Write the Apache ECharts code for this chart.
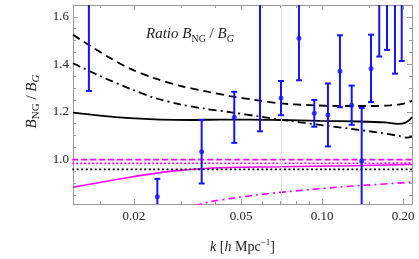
<!DOCTYPE html>
<html><head><meta charset="utf-8">
<script src="https://cdn.jsdelivr.net/npm/echarts@6/dist/echarts.min.js"></script>
<style>html,body{margin:0;padding:0;background:#fff}#c{width:419px;height:259px}</style>
</head><body><div id="c"></div>
<script>
// ---- data ----
const pointK     = [0.0136, 0.02443, 0.0357, 0.04719, 0.05881, 0.0704, 0.0821, 0.0936, 0.1052, 0.1166, 0.1289, 0.1404, 0.1521, 0.1632, 0.1744, 0.1867, 0.1978];
const pointRatio = [1.75,   0.8425,  1.032,  1.177,   1.80,    1.258,  1.510,  1.194,  1.187,  1.371,  1.228,  0.9935, 1.383,  1.75,   1.80,   1.75,   1.75];
const pointErr   = [0.462,  0.0755,  0.1335, 0.1075,  0.682,   0.072,  0.177,  0.0565, 0.1325, 0.1515, 0.0825, 0.2235, 0.142,  0.317,  0.339,  0.389,  0.336];

const solidK   = [0.01187, 0.01495, 0.01932, 0.02498, 0.0323, 0.04175, 0.05398, 0.06977, 0.09827, 0.1384, 0.1714, 0.1916, 0.2034, 0.2123, 0.216];
const solidV   = [1.1966,  1.1842,  1.1739,  1.1677,  1.1657, 1.1677,  1.1677,  1.1657,  1.1624,  1.1595, 1.1554, 1.1492, 1.1533, 1.1677, 1.1780];

const dashedK  = [0.01187, 0.01372, 0.01628, 0.01932, 0.02394, 0.02965, 0.03671, 0.04548, 0.05634, 0.06977, 0.09022, 0.1166, 0.1508, 0.179,  0.195,  0.2069, 0.216];
const dashedV  = [1.5246,  1.4788,  1.4273,  1.3820,  1.3408,  1.3099,  1.2872,  1.2666,  1.2501,  1.2357,  1.2283,  1.2246, 1.2246, 1.2275, 1.2316, 1.2378, 1.2460];

const dashDotK = [0.01187, 0.01495, 0.01932, 0.02394, 0.02965, 0.03671, 0.04548, 0.05881, 0.07603, 0.09827, 0.1271, 0.1642, 0.195,  0.2069, 0.216];
const dashDotV = [1.4047,  1.3511,  1.2975,  1.2584,  1.2316,  1.2131,  1.1986,  1.1801,  1.1616,  1.1451,  1.1286, 1.1121, 1.0977, 1.0915, 1.0956];

const dottedK  = [0.0118, 0.216];
const dottedV  = [0.958,  0.958];

const magSolidK = [0.01187, 0.01495, 0.01932, 0.02394, 0.02965, 0.03671, 0.04955, 0.06977, 0.1271, 0.216];
const magSolidV = [0.8829,  0.9028,  0.9246,  0.9411,  0.9535,  0.9617,  0.9667,  0.9691,  0.9733, 0.9782];

const magDashK  = [0.0118, 0.216];
const magDashV  = [0.999,  0.999];

const magDotK   = [0.0118, 0.216];
const magDotV   = [0.983,  0.984];

const magDashDotK = [0.03371, 0.03833, 0.04548, 0.05634, 0.06977, 0.09022, 0.1166, 0.1508, 0.216];
const magDashDotV = [0.8051,  0.8216,  0.8348,  0.8492,  0.8608,  0.8727,  0.8834, 0.8925, 0.9040];

const gridK = 0.07;

const xTickValues = [0.02, 0.05, 0.1, 0.2];
const xTickLabels = ['0.02', '0.05', '0.10', '0.20'];
const xMinorTicks = [0.015, 0.03, 0.04, 0.06, 0.07, 0.08, 0.09, 0.15];
const yTickValues = [1.0, 1.2, 1.4, 1.6];
const yTickLabels = ['1.0', '1.2', '1.4', '1.6'];
const yMinorTicks = [0.85, 0.9, 0.95, 1.05, 1.1, 1.15, 1.25, 1.3, 1.35, 1.45, 1.5, 1.55];

// ---- chart ----
const L = Math.log10;
const xMin = L(0.01187), xMax = L(0.2160);
const yMin = 0.812, yMax = 1.65;
const FRAME = '#9a9a9a';
const SERIF = 'Liberation Serif';
const BLUE = '#1414ff';
const MAG = '#ff00ff';

function pairs(ks, vs) { return ks.map((k, i) => [L(k), vs[i]]); }

function xAxisDef(pos, ticks, len, labels) {
  return {
    type: 'value', position: pos, min: xMin, max: xMax,
    axisLine: { show: labels, onZero: false, lineStyle: { color: FRAME, width: 1 } },
    axisTick: { show: true, inside: true, length: len, customValues: ticks.map(L), lineStyle: { color: FRAME } },
    axisLabel: labels ? {
      show: true, customValues: xTickValues.map(L), margin: 6,
      formatter: v => { const i = xTickValues.findIndex(t => Math.abs(L(t) - v) < 1e-6); return i >= 0 ? xTickLabels[i] : ''; },
      fontFamily: SERIF, fontSize: 13, color: '#222'
    } : { show: false },
    splitLine: { show: false }
  };
}
function yAxisDef(pos, ticks, len, labels) {
  return {
    type: 'value', position: pos, min: yMin, max: yMax,
    axisLine: { show: true, onZero: false, lineStyle: { color: FRAME, width: 1 } },
    axisTick: { show: true, inside: true, length: len, customValues: ticks, lineStyle: { color: FRAME } },
    axisLabel: labels ? {
      show: true, customValues: yTickValues, margin: 4,
      formatter: v => { const i = yTickValues.findIndex(t => Math.abs(t - v) < 1e-6); return i >= 0 ? yTickLabels[i] : ''; },
      fontFamily: SERIF, fontSize: 13, color: '#222'
    } : { show: false },
    splitLine: { show: false }
  };
}

const xAxes = [xAxisDef('bottom', xTickValues, 5, true), xAxisDef('bottom', xMinorTicks, 3, false),
               xAxisDef('top', xTickValues, 5, false), xAxisDef('top', xMinorTicks, 3, false)];
xAxes[2].axisLine.show = true;
xAxes[0].name = '{i|k} {n|[}{i|h} {n|Mpc}{sup|−1}{n|]}';
xAxes[0].nameLocation = 'middle';
xAxes[0].nameGap = 34;
xAxes[0].nameTextStyle = {
  fontFamily: SERIF, fontSize: 14, color: '#222',
  rich: {
    i: { fontFamily: SERIF, fontSize: 14, fontStyle: 'italic', color: '#222', lineHeight: 18 },
    n: { fontFamily: SERIF, fontSize: 14, color: '#222', lineHeight: 18 },
    sup: { fontFamily: SERIF, fontSize: 9, color: '#222', lineHeight: 9, verticalAlign: 'top' }
  }
};
const yAxes = [yAxisDef('left', yTickValues, 5, true), yAxisDef('left', yMinorTicks, 3, false),
               yAxisDef('right', yTickValues, 5, false), yAxisDef('right', yMinorTicks, 3, false)];
yAxes[1].axisLine.show = false; yAxes[3].axisLine.show = false;
yAxes[0].name = '{i|B}{sub|NG}{n| / }{i|B}{subi|G}';
yAxes[0].nameLocation = 'middle';
yAxes[0].nameRotate = 90;
yAxes[0].nameGap = 29;
const richSub = {
  i: { fontFamily: SERIF, fontSize: 15, fontStyle: 'italic', color: '#222', lineHeight: 19 },
  n: { fontFamily: SERIF, fontSize: 15, color: '#222', lineHeight: 19 },
  sub: { fontFamily: SERIF, fontSize: 11, color: '#222', lineHeight: 11, verticalAlign: 'bottom' },
  subi: { fontFamily: SERIF, fontSize: 11, fontStyle: 'italic', color: '#222', lineHeight: 11, verticalAlign: 'bottom' }
};
yAxes[0].nameTextStyle = { fontFamily: SERIF, fontSize: 15, color: '#222', rich: richSub, padding: [0, 0, 0, 6] };

function lineSeries(ks, vs, color, width, type) {
  return {
    type: 'line', xAxisIndex: 0, yAxisIndex: 0, data: pairs(ks, vs), smooth: 0.3,
    showSymbol: false, symbol: 'none', silent: true, clip: true,
    lineStyle: { color: color, width: width, type: type }, z: 3
  };
}

const series = [
  {
    type: 'line', data: [], xAxisIndex: 0, yAxisIndex: 0, silent: true,
    markLine: { silent: true, symbol: 'none', label: { show: false },
      lineStyle: { color: '#e2e2e2', width: 1, type: 'solid' },
      data: [{ xAxis: L(gridK) }] }, z: 1
  },
  lineSeries(magDashDotK, magDashDotV, MAG, 1.6, [7, 4, 2, 4]),
  lineSeries(magDashK, magDashV, MAG, 1.6, [6, 3]),
  lineSeries(magDotK, magDotV, MAG, 1.6, [2, 2]),
  lineSeries(magSolidK, magSolidV, MAG, 1.6, 'solid'),
  lineSeries(dottedK, dottedV, '#000', 1.6, [2, 2.5]),
  lineSeries(dashDotK, dashDotV, '#000', 1.8, [8, 4, 2, 4]),
  lineSeries(dashedK, dashedV, '#000', 1.8, [8, 5]),
  lineSeries(solidK, solidV, '#000', 1.8, 'solid'),
  {
    type: 'custom', xAxisIndex: 0, yAxisIndex: 0, clip: true, silent: true, z: 5,
    data: pointK.map((k, i) => [L(k), pointRatio[i], pointErr[i]]),
    renderItem: (params, api) => {
      const x = api.value(0), y = api.value(1), e = api.value(2);
      const lo = api.coord([x, y - e]), hi = api.coord([x, y + e]);
      const w = 3, st = { stroke: BLUE, lineWidth: 2 };
      return { type: 'group', children: [
        { type: 'line', shape: { x1: lo[0], y1: lo[1], x2: hi[0], y2: hi[1] }, style: st },
        { type: 'line', shape: { x1: lo[0] - w, y1: lo[1], x2: lo[0] + w, y2: lo[1] }, style: st },
        { type: 'line', shape: { x1: hi[0] - w, y1: hi[1], x2: hi[0] + w, y2: hi[1] }, style: st }
      ] };
    }
  },
  {
    type: 'scatter', xAxisIndex: 0, yAxisIndex: 0, clip: true, silent: true, z: 6,
    data: pointK.map((k, i) => [L(k), pointRatio[i]]),
    symbol: 'circle', symbolSize: 5, itemStyle: { color: BLUE }
  }
];

const chart = echarts.init(document.getElementById('c'), null, { renderer: 'canvas' });
chart.setOption({
  animation: false,
  backgroundColor: '#fff',
  grid: { left: 73, right: 7, top: 5, bottom: 51, containLabel: false },
  xAxis: xAxes,
  yAxis: yAxes,
  graphic: [{
    type: 'text', left: 146, top: 27, silent: true,
    style: {
      text: '{i|Ratio }{i|B}{sub|NG}{n| / }{i|B}{subi|G}',
      rich: {
        i: { fontFamily: SERIF, fontSize: 15, fontStyle: 'italic', fill: '#222', lineHeight: 20 },
        n: { fontFamily: SERIF, fontSize: 15, fill: '#222', lineHeight: 20 },
        sub: { fontFamily: SERIF, fontSize: 10, fill: '#222', lineHeight: 10, verticalAlign: 'bottom' },
        subi: { fontFamily: SERIF, fontSize: 10, fontStyle: 'italic', fill: '#222', lineHeight: 10, verticalAlign: 'bottom' }
      }
    }
  }],
  series: series
});
</script>
</body></html>
